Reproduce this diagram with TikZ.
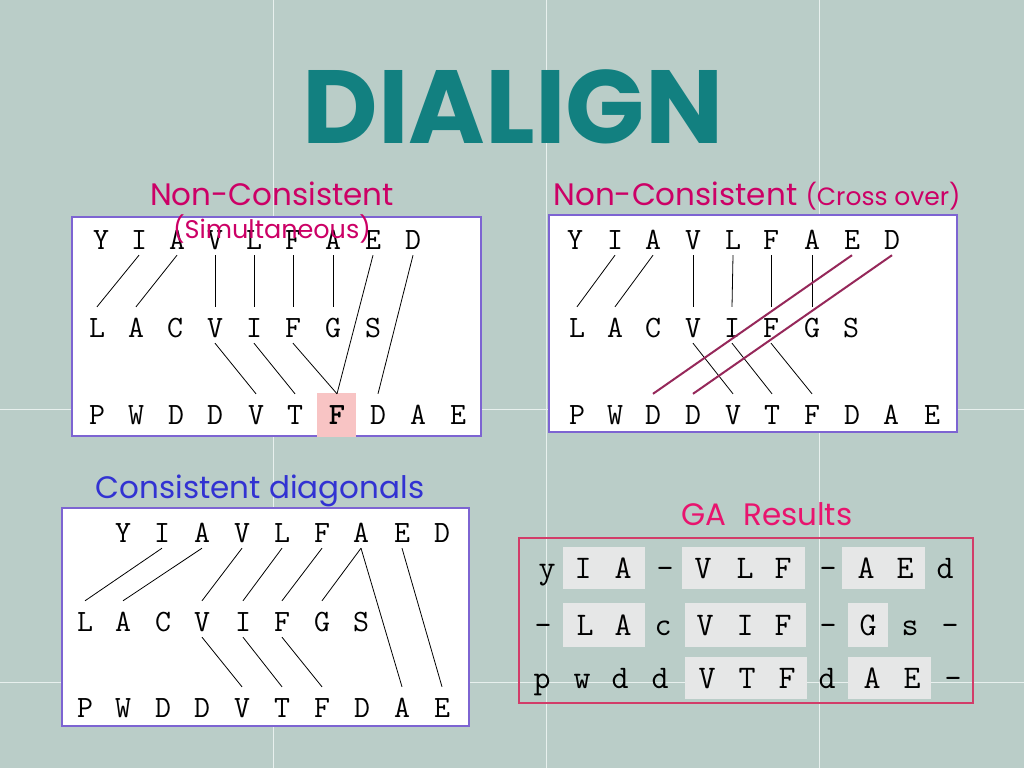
\documentclass[tikz,border=0pt]{standalone}
\usepackage{fontspec}
\newfontfamily\pop{Poppins}
\definecolor{bg}{RGB}{186,205,200}
\definecolor{seam}{RGB}{232,240,238}
\definecolor{teal}{RGB}{18,128,128}
\definecolor{mag}{RGB}{204,0,102}
\definecolor{pinkt}{RGB}{232,20,110}
\definecolor{bluet}{RGB}{50,50,210}
\definecolor{boxb}{RGB}{125,100,210}
\definecolor{gab}{RGB}{210,60,105}
\definecolor{cross}{RGB}{150,40,90}
\definecolor{cell}{RGB}{230,231,231}
\definecolor{hil}{RGB}{248,196,196}
\newcommand\letterrow[4]{%
  \foreach \c/\xx [count=\i] in {#4} \node[#3] (#1-\i) at (\xx,#2) {\c};}
\begin{document}
\begin{tikzpicture}[x=1pt,y=-1pt,
  lt/.style={font=\ttfamily\fontsize{31}{31}\selectfont, inner sep=0pt,
             text height=30pt, text depth=6pt, anchor=base},
  ga/.style={font=\ttfamily\fontsize{33}{33}\selectfont, inner sep=0pt, anchor=base},
  panel/.style={draw=boxb, fill=white, line width=1.2pt},
  link/.style={draw=black, line width=0.8pt},
  xlink/.style={draw=cross, line width=2pt},
  greycell/.style={fill=cell},
  ttl/.style={inner sep=0pt, anchor=base}]
\useasboundingbox (0,0) rectangle (1024,768);
\fill[bg] (0,0) rectangle (1024,768);
\foreach \sx in {273,546,819} \draw[seam, line width=1pt] (\sx,0) -- (\sx,768);
\foreach \sy in {409,682} \draw[seam, line width=1pt] (0,\sy) -- (1024,\sy);

% title
\node[ttl, text=teal, font=\pop\bfseries\fontsize{104}{104}\selectfont] (title) at (513,143) {DIALIGN};

% ---------- panel 1 ----------
\path[panel] (72,217) rectangle (481,436);
\fill[hil] (317,393) rectangle (356,437);
\letterrow{a}{249}{lt}{Y/101,I/139,A/177,V/215,L/254,F/293,A/333,E/373,D/413}
\letterrow{b}{337}{lt}{L/97,A/136,C/175,V/215,I/254,F/293,G/333,S/373}
\letterrow{c}{424}{lt}{P/97,W/136,D/176,D/215,V/256,T/295,{\bfseries F}/337,D/378,A/418,E/458}
\foreach \s/\t in {a-2/b-1,a-3/b-2,a-4/b-4,a-5/b-5,a-6/b-6,a-7/b-7,a-8/c-7,a-9/c-8,b-4/c-5,b-5/c-6,b-6/c-7}
  \draw[link] (\s.south) -- (\t.north);
\node[ttl, text=mag, font=\pop\fontsize{31}{31}\selectfont] (t1) at (272,205) {Non-Consistent};
\node[ttl, text=mag, font=\pop\fontsize{25.5}{26}\selectfont] (t1b) at (272,238) {(Simultaneous)};

% ---------- panel 2 ----------
\path[panel] (549,215) rectangle (957,432);
\letterrow{d}{249}{lt}{Y/575,I/615,A/653,V/693,L/733,F/771,A/812,E/852,D/892}
\letterrow{e}{337}{lt}{L/577,A/615,C/653,V/693,I/732,F/771,G/812,S/851}
\letterrow{f}{424}{lt}{P/577,W/615,D/653,D/693,V/733,T/772,F/812,D/852,A/891,E/932}
\foreach \s/\t in {d-2/e-1,d-3/e-2,d-4/e-4,d-5/e-5,d-6/e-6,d-7/e-7,e-4/f-5,e-5/f-6,e-6/f-7}
  \draw[link] (\s.south) -- (\t.north);
\draw[xlink] (d-8.south) -- (f-3.north);
\draw[xlink] (d-9.south) -- (f-4.north);
\node[ttl, text=mag, font=\pop\fontsize{31}{31}\selectfont] (t2) at (757,205) {Non-Consistent {\fontsize{25}{25}\selectfont(Cross over)}};

% ---------- panel 3 ----------
\path[panel] (62,508) rectangle (469,726);
\letterrow{g}{542}{lt}{Y/123,I/162,A/202,V/242,L/282,F/322,A/361,E/402,D/442}
\letterrow{h}{631}{lt}{L/85,A/123,C/163,V/202,I/243,F/282,G/322,S/361}
\letterrow{j}{717}{lt}{P/85,W/123,D/163,D/202,V/242,T/282,F/322,D/362,A/402,E/442}
\foreach \s/\t in {g-2/h-1,g-3/h-2,g-4/h-4,g-5/h-5,g-6/h-6,g-7/h-7,g-7/j-9,g-8/j-10,h-4/j-5,h-5/j-6,h-6/j-7}
  \draw[link] (\s.south) -- (\t.north);
\node[ttl, text=bluet, font=\pop\fontsize{31}{31}\selectfont] (t3) at (260,498) {Consistent diagonals};

% ---------- GA results ----------
\draw[gab, line width=1.2pt] (519,538) rectangle (973,703);
\path[greycell] (563,547) rectangle (645,589);
\path[greycell] (682,547) rectangle (805,589);
\path[greycell] (842,547) rectangle (925,589);
\path[greycell] (563,603) rectangle (645,647);
\path[greycell] (685,603) rectangle (806,647);
\path[greycell] (848,603) rectangle (888,647);
\path[greycell] (685,657) rectangle (807,699);
\path[greycell] (848,657) rectangle (931,699);
\letterrow{k}{578}{ga}{y/547,I/583,A/623,-/665,V/703,L/745,F/783,-/828,A/866,E/905,d/945}
\letterrow{m}{635}{ga}{-/543,L/585,A/623,c/663,V/705,I/745,F/783,-/828,G/868,s/910,-/950}
\letterrow{n}{688}{ga}{p/542,w/582,d/620,d/660,V/707,T/747,F/787,d/827,A/872,E/912,-/953}
\node[ttl, text=pinkt, font=\pop\fontsize{31}{31}\selectfont] (t4) at (767,525) {GA\ \ Results};
\end{tikzpicture}
\end{document}
